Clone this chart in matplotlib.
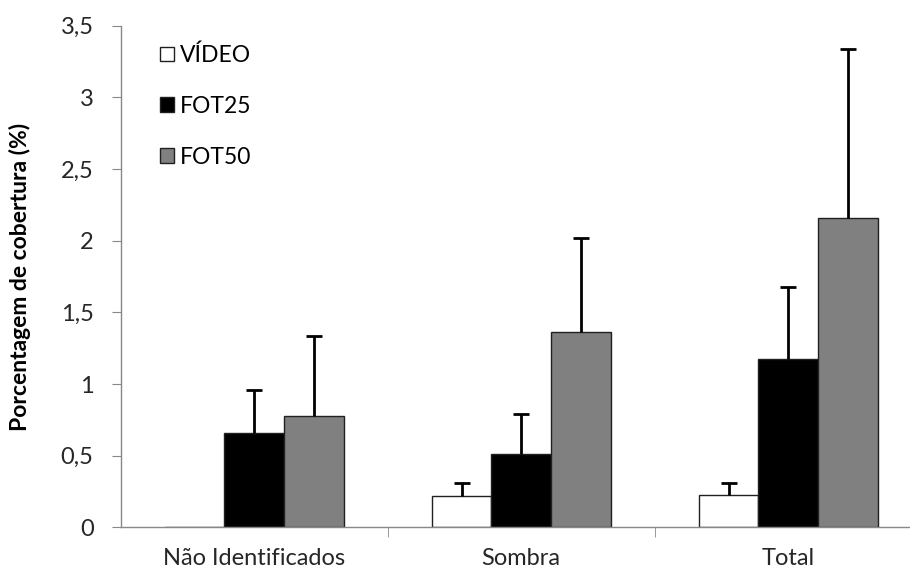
import numpy as np
import matplotlib
matplotlib.use('Agg')
import matplotlib.pyplot as plt
from matplotlib.ticker import FuncFormatter

plt.rcParams['font.family'] = ['Lato', 'DejaVu Sans']

# Data
categories = ['Não Identificados', 'Sombra', 'Total']
series = ['VÍDEO', 'FOT25', 'FOT50']
video = [0.0, 0.223, 0.224]
video_err = [0.0, 0.085, 0.085]
fot25 = [0.657, 0.512, 1.175]
fot25_err = [0.305, 0.28, 0.50]
fot50 = [0.778, 1.367, 2.157]
fot50_err = [0.56, 0.65, 1.18]
yticks = [0, 0.5, 1, 1.5, 2, 2.5, 3, 3.5]

colors = ['white', 'black', '#808080']

fig = plt.figure(figsize=(9.1, 5.72), dpi=100)
ax = fig.add_axes([0.1326, 0.0778, 0.8774, 0.8772])

x = np.arange(len(categories))
w = 0.2236
values = [video, fot25, fot50]
errors = [video_err, fot25_err, fot50_err]
for i, (vals, errs) in enumerate(zip(values, errors)):
    pos = x + (i - 1) * w
    ax.bar(pos, vals, width=w, color=colors[i], edgecolor='#202020',
           linewidth=1, label=series[i], zorder=2)
    # upper error bars only, skip empty ones
    e = np.array(errs)
    v = np.array(vals)
    mask = e > 0
    eb = ax.errorbar(pos[mask], v[mask],
                     yerr=[np.zeros(mask.sum()), e[mask]],
                     fmt='none', ecolor='black', elinewidth=2,
                     capsize=6, capthick=2, zorder=3)
    # hide the cap sitting on the bar top
    for cap in eb[1]:
        if np.allclose(cap.get_ydata(), v[mask]):
            cap.set_visible(False)

ax.set_ylim(0, 3.5)
ax.set_xlim(-0.5, 2.49)
ax.set_yticks(yticks)
ax.yaxis.set_major_formatter(FuncFormatter(lambda v, p: ('%g' % v).replace('.', ',')))
ax.set_xticks(x)
ax.set_xticklabels(categories)
ax.set_xticks([0.5, 1.5], minor=True)
ax.tick_params(axis='x', which='major', length=0, pad=15, labelsize=17, labelcolor='#262626')
ax.tick_params(axis='x', which='minor', length=7, color='#888888')
ax.tick_params(axis='y', length=6.5, color='#888888', labelsize=17, labelcolor='#262626', pad=13)

for s in ['top', 'right']:
    ax.spines[s].set_visible(False)
for s in ['left', 'bottom']:
    ax.spines[s].set_color('#888888')
    ax.spines[s].set_linewidth(1)

ax.set_ylabel('Porcentagem de cobertura (%)', fontsize=16.5, fontweight='bold', labelpad=21)

ax.legend(loc='upper left', bbox_to_anchor=(0.176, 0.922), bbox_transform=fig.transFigure,
          frameon=False, fontsize=16.5, handlelength=0.62, handleheight=0.62,
          handletextpad=0.25, labelspacing=1.3, borderpad=0, borderaxespad=0)

fig.savefig('out.png', dpi=100)
